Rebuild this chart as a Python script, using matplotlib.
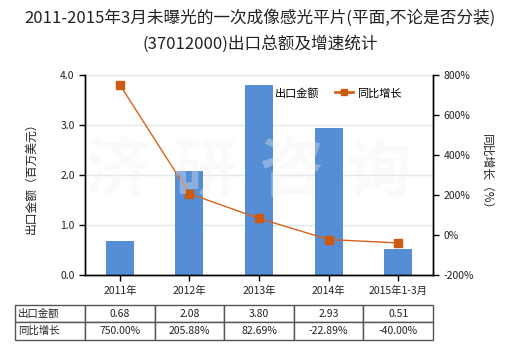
import matplotlib
matplotlib.use('Agg')
import matplotlib.pyplot as plt
from matplotlib.patches import Patch
from matplotlib.lines import Line2D

plt.rcParams['font.family'] = ['Noto Sans CJK SC', 'DejaVu Sans']

# data
categories = ['2011年', '2012年', '2013年', '2014年', '2015年1-3月']
export_values = [0.68, 2.08, 3.80, 2.93, 0.51]
growth_pct = [750.00, 205.88, 82.69, -22.89, -40.00]
export_labels = ['0.68', '2.08', '3.80', '2.93', '0.51']
growth_labels = ['750.00%', '205.88%', '82.69%', '-22.89%', '-40.00%']

bar_color = '#558ed5'
line_color = '#d9621c'
text_color = '#222222'

fig = plt.figure(figsize=(5.2, 3.5), dpi=100)
ax = fig.add_axes([0.1635, 0.2143, 0.6692, 0.5723])
ax2 = ax.twinx()

x = list(range(len(categories)))
ax.bar(x, export_values, width=0.4, color=bar_color, zorder=2)
ax.set_xlim(-0.5, len(categories) - 0.5)
ax.set_ylim(0, 4.0)
ax.set_yticks([0, 1, 2, 3, 4])
ax.set_yticklabels(['0.0', '1.0', '2.0', '3.0', '4.0'])
ax.set_xticks(x)
ax.set_xticklabels(categories)
ax.grid(axis='y', color='#dfe8ea', linewidth=1, zorder=0)
ax.set_axisbelow(True)

ax2.plot(x, growth_pct, color=line_color, linewidth=1, marker='s',
         markersize=6, markerfacecolor='#cc5a10', markeredgecolor='#cc5a10',
         zorder=5)
ax2.set_ylim(-200, 800)
ax2.set_yticks([-200, 0, 200, 400, 600, 800])
ax2.set_yticklabels(['-200%', '0%', '200%', '400%', '600%', '800%'])

for a in (ax, ax2):
    a.spines['top'].set_visible(False)
    for s in ('left', 'right', 'bottom'):
        a.spines[s].set_color('#000000')
        a.spines[s].set_linewidth(1)
    a.tick_params(axis='both', labelsize=7.5, colors='#000000',
                  labelcolor=text_color, length=4, width=1)

ax.set_ylabel('出口金额（百万美元）', fontsize=8.5, color=text_color, labelpad=16)
ax2.set_ylabel('同比增长（%）', fontsize=8.5, color=text_color,
               rotation=-90, labelpad=14)

# faint watermark
for i, ch in enumerate('济研咨询'):
    fig.text((118 + i * 87) / 520, 1 - 172 / 350, ch, fontsize=46,
             color='#f2f2f2', alpha=0.35, ha='center', va='center',
             fontweight='bold', zorder=3)

handles = [Patch(color=bar_color),
           Line2D([], [], color=line_color, linewidth=2, marker='s',
                  markersize=4, markerfacecolor='#cc5a10',
                  markeredgecolor='#cc5a10')]
fig.legend(handles, ['出口金额', '同比增长'], ncol=2, frameon=False,
           fontsize=8, loc='center', bbox_to_anchor=(327 / 520, 1 - 93 / 350),
           handlelength=1.6, handletextpad=0.4, columnspacing=1.4)

fig.text(0.5, 1 - 18 / 350,
         '2011-2015年3月未曝光的一次成像感光平片(平面,不论是否分装)',
         fontsize=12, ha='center', va='center', color=text_color)
fig.text(0.5, 1 - 44 / 350, '(37012000)出口总额及增速统计',
         fontsize=12, ha='center', va='center', color=text_color)

# data table under the chart
cell_text = [['出口金额'] + export_labels, ['同比增长'] + growth_labels]
tbl = ax.table(cellText=cell_text, bbox=[-0.201, -0.3245, 1.201, 0.176],
               colWidths=[70] + [69.6] * 5, cellLoc='center')
tbl.auto_set_font_size(False)
tbl.set_fontsize(7.5)
for (r, c), cell in tbl.get_celld().items():
    cell.set_edgecolor('#555555')
    cell.set_linewidth(1)
    cell.get_text().set_color(text_color)
    if c == 0:
        cell.get_text().set_ha('left')
        cell.PAD = 0.04

fig.savefig('out.png', dpi=100)
